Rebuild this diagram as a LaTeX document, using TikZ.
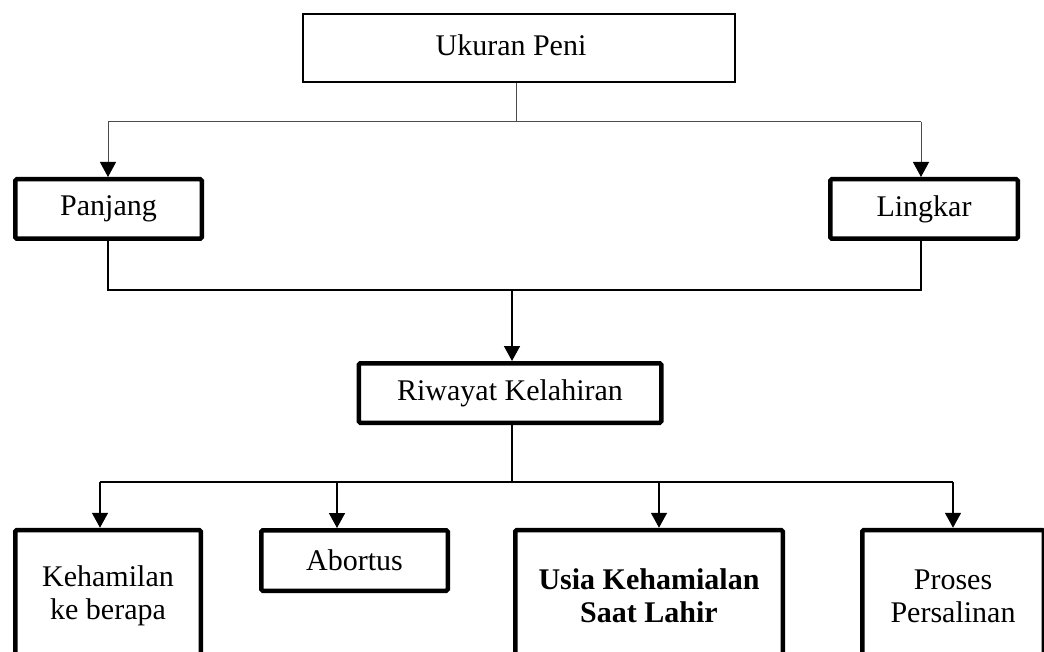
\documentclass[tikz,border=0pt]{standalone}
\usepackage{fontspec}
\setmainfont{Liberation Serif}
\usetikzlibrary{arrows.meta}
\begin{document}
\begin{tikzpicture}[x=1pt,y=-1pt,
  txt/.style={font=\fontsize{30}{33}\selectfont, align=center, inner sep=0pt},
  thinbox/.style={txt, draw, line width=2pt},
  thickbox/.style={txt, draw, line width=4.5pt, rounded corners=1.5pt},
  conn/.style={line width=1.6pt},
  lightconn/.style={line width=1pt, draw=black!70},
  arr/.style={-{Triangle[width=16pt,length=15pt,color=black]}}
]
\useasboundingbox (0,0) rectangle (1044,652);
\clip (0,0) rectangle (1044,652);

% nodes
\node[thinbox, minimum width=432pt, minimum height=68pt, text depth=6pt] (top) at (519,48) {\hspace*{-16pt}Ukuran Peni};
\node[thickbox, minimum width=186.5pt, minimum height=59.5pt] (panjang) at (108.5,209) {Panjang};
\node[thickbox, minimum width=187.5pt, minimum height=59.5pt] (lingkar) at (924,209) {Lingkar};
\node[thickbox, minimum width=302.5pt, minimum height=59.5pt] (riwayat) at (510,393) {Riwayat Kelahiran};
\node[thickbox, minimum width=186.5pt, minimum height=60.5pt] (abortus) at (354.5,560.5) {Abortus};
\node[thickbox, minimum width=185.5pt, minimum height=132pt] (keh) at (108,596) {Kehamilan\\ke berapa};
\node[thickbox, minimum width=267.5pt, minimum height=132pt] (usia) at (649,596) {\textbf{Usia Kehamialan}\\\textbf{Saat Lahir}};
\node[thickbox, minimum width=181.5pt, minimum height=132pt] (proses) at (953,596) {Proses\\Persalinan};

% coordinates of the buses
\coordinate (b1) at (516,122);
\coordinate (b2) at (512,290);
\coordinate (b3) at (512,482);
\coordinate (k1) at (100,482);
\coordinate (a1) at (337,482);
\coordinate (u1) at (659,482);
\coordinate (p1) at (953,482);
\coordinate (pj) at (108,122);
\coordinate (lk) at (921,122);

% top connectors
\draw[lightconn] (top.south -| b1) -- (b1);
\draw[lightconn] (pj) -- (lk);
\draw[lightconn, arr] (pj) -- (pj |- panjang.north);
\draw[lightconn, arr] (lk) -- (lk |- lingkar.north);

% middle connectors
\draw[conn] (pj |- panjang.south) -- (pj |- b2) -- (lk |- b2) -- (lk |- lingkar.south);
\draw[conn, arr] (b2) -- (b2 |- riwayat.north);

% bottom connectors
\draw[conn] (b3 |- riwayat.south) -- (b3);
\draw[conn] (k1) -- (p1);
\draw[conn, arr] (k1) -- (k1 |- keh.north);
\draw[conn, arr] (a1) -- (a1 |- abortus.north);
\draw[conn, arr] (u1) -- (u1 |- usia.north);
\draw[conn, arr] (p1) -- (p1 |- proses.north);
\end{tikzpicture}
\end{document}
